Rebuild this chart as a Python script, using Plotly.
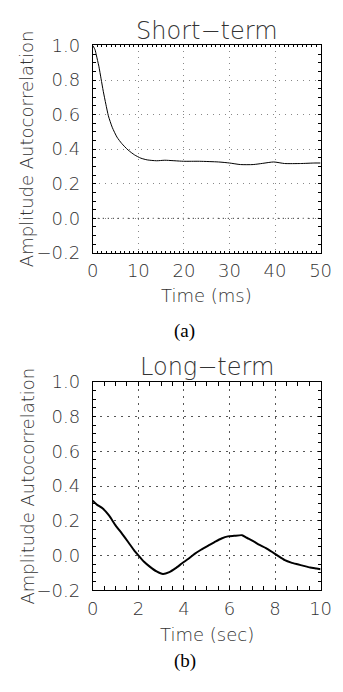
import plotly.graph_objects as go

# Short-term autocorrelation (time in ms)
short_t = [0, 0.5, 0.77, 1.33, 1.82, 2.3, 2.87, 3.42, 4.26, 5.3, 6.35, 7.75, 9.16, 10.55,
           11.95, 14.0, 15.8, 19.9, 23.4, 27.6, 30.0, 32.4, 35.2, 37.3, 39.7, 42.1, 45.6, 48.75, 50]
short_v = [1.0, 0.975, 0.945, 0.88, 0.807, 0.735, 0.66, 0.593, 0.527, 0.47, 0.433, 0.395, 0.367, 0.348,
           0.338, 0.333, 0.336, 0.33, 0.33, 0.326, 0.32, 0.311, 0.311, 0.318, 0.326, 0.317, 0.317, 0.32, 0.32]

# Long-term autocorrelation (time in sec)
long_t = [0, 0.17, 0.44, 0.72, 1.0, 1.28, 1.56, 1.83, 2.0, 2.25, 2.5, 2.8, 3.08, 3.36, 3.64, 3.92,
          4.2, 4.47, 4.75, 5.1, 5.38, 5.65, 5.93, 6.2, 6.55, 6.76, 7.04, 7.32, 7.6, 7.875, 8.15,
          8.43, 8.71, 8.99, 9.26, 9.54, 9.82, 10.0]
long_v = [0.316, 0.294, 0.27, 0.229, 0.173, 0.126, 0.076, 0.027, 0.001, -0.036, -0.064, -0.092,
          -0.107, -0.096, -0.073, -0.045, -0.019, 0.009, 0.033, 0.059, 0.08, 0.098, 0.11, 0.113,
          0.117, 0.102, 0.083, 0.061, 0.043, 0.02, -0.004, -0.027, -0.041, -0.051, -0.06, -0.069,
          -0.075, -0.079]

y_ticks = [-0.2, 0.0, 0.2, 0.4, 0.6, 0.8, 1.0]
y_ticklabels = ["\u22120.2", "0.0", "0.2", "0.4", "0.6", "0.8", "1.0"]
short_xticks = [0, 10, 20, 30, 40, 50]
long_xticks = [0, 2, 4, 6, 8, 10]

OX, OY = 8, 8  # page body margin offset
W, H = 343 - OX, 692 - OY
FONT = "DejaVu Sans"
WT = 200
TXT = "#333"

def px(X):
    return (X - OX) / W

def py(Y):
    return 1 - (Y - OY) / H

fig = go.Figure()
fig.add_trace(go.Scatter(x=short_t, y=short_v, mode="lines", line=dict(color="black", width=1, shape="spline", smoothing=0.6),
                         xaxis="x", yaxis="y", showlegend=False))
fig.add_trace(go.Scatter(x=long_t, y=long_v, mode="lines", line=dict(color="black", width=2, shape="spline", smoothing=0.5),
                         xaxis="x2", yaxis="y2", showlegend=False))

tickfont = dict(family=FONT, size=18, color=TXT, weight=WT)
titlefont = dict(family=FONT, size=18, color=TXT, weight=WT)
common_axis = dict(showline=True, linecolor="black", linewidth=1, mirror="allticks",
                   ticks="inside", ticklen=0, tickcolor="black", ticklabeloverflow="allow",
                   showgrid=True, gridwidth=1, zeroline=False, tickfont=tickfont)
top_grid = dict(gridcolor="#888", griddash="1px,5px")
bot_grid = dict(gridcolor="#555", griddash="2px,5px")

xdom = [px(91), px(331)]
fig.update_layout(
    width=W, height=H, margin=dict(l=0, r=0, t=0, b=0),
    paper_bgcolor="white", plot_bgcolor="white",
    xaxis=dict(domain=xdom, range=[0, 50], tickvals=short_xticks, anchor="y",
               minor=dict(dtick=1, ticks="inside", ticklen=2, tickcolor="black", showgrid=False),
               ticklabelstandoff=2, **top_grid, **common_axis),
    yaxis=dict(domain=[py(249.3), py(35.3)], range=[-0.2, 1.0], tickvals=y_ticks, ticktext=y_ticklabels, anchor="x",
               minor=dict(dtick=0.05, ticks="inside", ticklen=3, tickcolor="black", showgrid=False),
               ticklabelstandoff=8, **top_grid, **common_axis),
    xaxis2=dict(domain=xdom, range=[0, 10], tickvals=long_xticks, anchor="y2",
                minor=dict(dtick=0.5, ticks="inside", ticklen=4, tickcolor="black", showgrid=False),
                ticklabelstandoff=2, **bot_grid, **common_axis),
    yaxis2=dict(domain=[py(597.3), py(382.3)], range=[-0.2, 1.0], tickvals=y_ticks, ticktext=y_ticklabels, anchor="x2",
                minor=dict(dtick=0.05, ticks="inside", ticklen=3, tickcolor="black", showgrid=False),
                ticklabelstandoff=8, **bot_grid, **common_axis),
)

# darker zero line in the short-term panel
fig.add_shape(type="line", xref="x domain", yref="y", x0=0, x1=1, y0=0, y1=0,
              line=dict(color="black", width=1, dash="1px,4px"), layer="below")

def label(text, X, Y, font, angle=0):
    fig.add_annotation(text=text, x=px(X), y=py(Y), xref="paper", yref="paper", showarrow=False,
                       font=font, xanchor="center", yanchor="middle", textangle=angle)

ann_font = dict(family=FONT, size=24, color=TXT, weight=WT)
label("Short\u2212term", 211, 20, ann_font)
label("Long\u2212term", 211, 367, ann_font)
label("Time (ms)", 211, 293, titlefont)
label("Time (sec)", 211, 643, titlefont)
label("Amplitude Autocorrelation", 22, 142, titlefont, -90)
label("Amplitude Autocorrelation", 22, 490, titlefont, -90)
cap_font = dict(family="Liberation Serif", size=19, color="black")
label("(a)", 188, 330, cap_font)
label("(b)", 188, 670, cap_font)

fig.write_html("out.html")
